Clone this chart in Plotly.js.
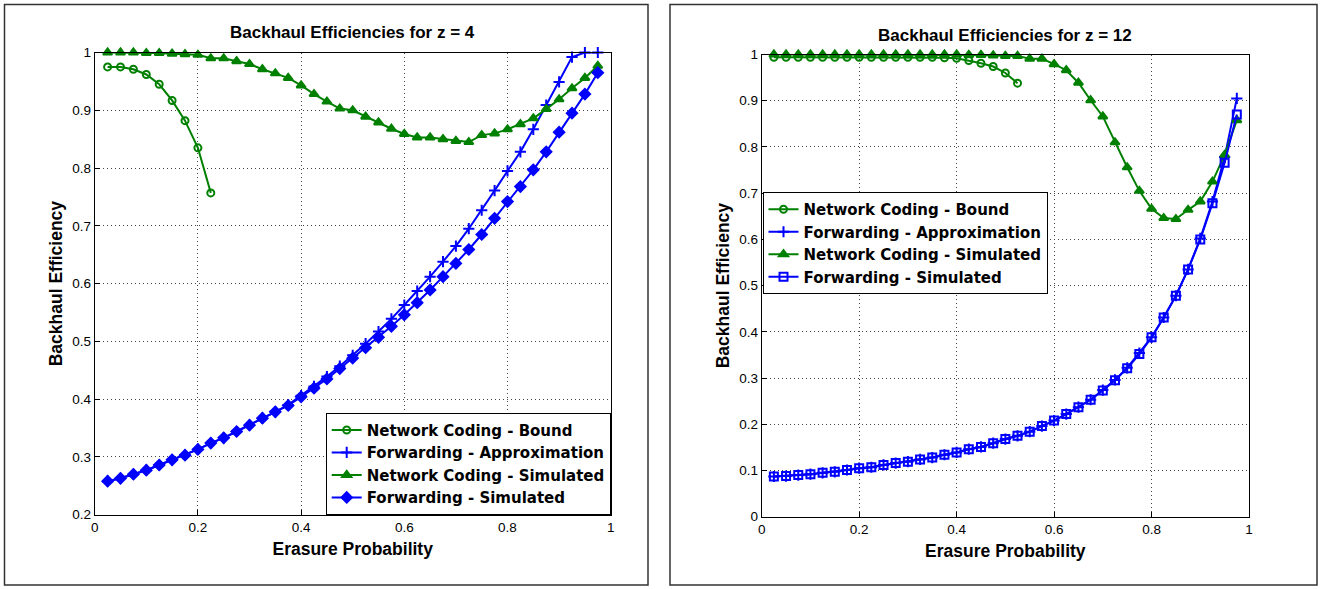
<!DOCTYPE html>
<html>
<head>
<meta charset="utf-8">
<script src="https://cdn.plot.ly/plotly-3.0.1.min.js"></script>
<style>html,body{margin:0;padding:0;background:#fff;}#chart{width:1322px;height:589px;}</style>
</head>
<body>
<div id="chart"></div>
<script>
// Erasure probability grid (0.025 .. 0.975)
const erasureProb = [0.025,0.05,0.075,0.1,0.125,0.15,0.175,0.2,0.225,0.25,0.275,0.3,0.325,0.35,0.375,0.4,0.425,0.45,0.475,0.5,0.525,0.55,0.575,0.6,0.625,0.65,0.675,0.7,0.725,0.75,0.775,0.8,0.825,0.85,0.875,0.9,0.925,0.95,0.975];

// ---- z = 4 ----
const z4_ncBound = [0.975,0.975,0.971,0.962,0.945,0.917,0.882,0.835,0.757];
const z4_fwdApprox = [0.258,0.263,0.270,0.277,0.286,0.295,0.303,0.313,0.324,0.333,0.344,0.355,0.367,0.378,0.390,0.406,0.422,0.439,0.457,0.476,0.496,0.517,0.539,0.563,0.587,0.612,0.638,0.665,0.695,0.727,0.761,0.795,0.828,0.867,0.909,0.949,0.992,1.0,1.0];
const z4_ncSim = [1.0,1.0,1.0,0.999,0.999,0.998,0.997,0.996,0.990,0.990,0.985,0.980,0.971,0.964,0.956,0.943,0.928,0.915,0.903,0.900,0.889,0.879,0.868,0.859,0.853,0.853,0.850,0.847,0.845,0.857,0.860,0.867,0.876,0.886,0.902,0.919,0.938,0.956,0.977];
const z4_fwdSim = [0.258,0.263,0.270,0.277,0.286,0.295,0.303,0.313,0.324,0.333,0.344,0.355,0.367,0.378,0.389,0.404,0.419,0.435,0.453,0.471,0.489,0.507,0.526,0.546,0.567,0.589,0.612,0.635,0.659,0.685,0.713,0.742,0.768,0.797,0.828,0.862,0.895,0.928,0.965];

// ---- z = 12 ----
const z12_ncBound = [0.994,0.994,0.994,0.994,0.994,0.994,0.994,0.994,0.994,0.994,0.994,0.994,0.994,0.994,0.993,0.992,0.987,0.981,0.974,0.960,0.938];
const z12_fwdApprox = [0.087,0.088,0.090,0.092,0.095,0.097,0.101,0.105,0.107,0.112,0.116,0.119,0.124,0.128,0.134,0.139,0.146,0.151,0.159,0.168,0.175,0.184,0.196,0.208,0.222,0.237,0.253,0.274,0.296,0.322,0.354,0.388,0.431,0.478,0.535,0.602,0.682,0.778,0.905];
const z12_ncSim = [1.0,1.0,1.0,1.0,1.0,1.0,1.0,1.0,1.0,1.0,1.0,1.0,1.0,1.0,1.0,1.0,0.999,0.999,0.998,0.997,0.997,0.991,0.991,0.979,0.966,0.939,0.901,0.866,0.810,0.756,0.705,0.666,0.646,0.644,0.664,0.682,0.725,0.783,0.858];
const z12_fwdSim = [0.087,0.088,0.090,0.092,0.095,0.097,0.101,0.105,0.107,0.112,0.116,0.119,0.124,0.128,0.134,0.139,0.146,0.151,0.159,0.168,0.175,0.184,0.196,0.208,0.222,0.237,0.253,0.273,0.295,0.321,0.352,0.388,0.431,0.478,0.535,0.600,0.678,0.766,0.870];

const seriesNames = ['Network Coding - Bound','Forwarding - Approximation','Network Coding - Simulated','Forwarding - Simulated'];
const plotTitles = ['Backhaul Efficiencies for z = 4','Backhaul Efficiencies for z = 12'];
const xTitle = 'Erasure Probability';
const yTitle = 'Backhaul Efficiency';

const GREEN = 'rgb(0,128,0)';
const BLUE = 'rgb(0,0,255)';
const FONT = '"Liberation Sans", Arial, Helvetica, sans-serif';
const LEGFONT = '"DejaVu Sans", "Liberation Sans", Arial, sans-serif';

function tr(x, y, name, color, symbol, size, xa, ya, leg) {
  return {
    x: x, y: y, name: name, type: 'scatter', mode: 'lines+markers',
    xaxis: xa, yaxis: ya, legend: leg, cliponaxis: false,
    line: {color: color, width: 2},
    marker: {symbol: symbol, size: size, color: color, line: {color: color, width: 2}}
  };
}

const data = [
  tr(erasureProb.slice(0, z4_ncBound.length), z4_ncBound, seriesNames[0], GREEN, 'circle-open', 7, 'x', 'y', 'legend'),
  tr(erasureProb, z4_fwdApprox, seriesNames[1], BLUE, 'cross-thin-open', 8, 'x', 'y', 'legend'),
  tr(erasureProb, z4_ncSim, seriesNames[2], GREEN, 'triangle-up', 8, 'x', 'y', 'legend'),
  tr(erasureProb, z4_fwdSim, seriesNames[3], BLUE, 'diamond', 8, 'x', 'y', 'legend'),
  tr(erasureProb.slice(0, z12_ncBound.length), z12_ncBound, seriesNames[0], GREEN, 'circle-open', 7, 'x2', 'y2', 'legend2'),
  tr(erasureProb, z12_fwdApprox, seriesNames[1], BLUE, 'cross-thin-open', 8, 'x2', 'y2', 'legend2'),
  tr(erasureProb, z12_ncSim, seriesNames[2], GREEN, 'triangle-up', 8, 'x2', 'y2', 'legend2'),
  tr(erasureProb, z12_fwdSim, seriesNames[3], BLUE, 'square-open', 8, 'x2', 'y2', 'legend2')
];

const W = 1322, H = 589;
const px = v => v / W;
const py = v => 1 - v / H;

const GRID = {gridcolor: '#444', griddash: '1px,3px', gridwidth: 1};

function xax(dom, anchor) {
  return Object.assign({
    domain: dom, anchor: anchor, range: [0, 1], dtick: 0.2, tick0: 0,
    showline: true, mirror: true, linecolor: '#000', linewidth: 1,
    ticks: 'inside', ticklen: 5, tickcolor: '#000',
    showgrid: true, zeroline: false,
    tickfont: {family: FONT, size: 13.5, color: '#000'},
    title: {text: '<b>' + xTitle + '</b>', font: {family: FONT, size: 17.5, color: '#000'}, standoff: 8}
  }, GRID);
}
function yax(dom, anchor, range) {
  return Object.assign({
    domain: dom, anchor: anchor, range: range, dtick: 0.1, tick0: 0,
    showline: true, mirror: true, linecolor: '#000', linewidth: 1,
    ticks: 'inside', ticklen: 5, tickcolor: '#000',
    showgrid: true, zeroline: false,
    tickfont: {family: FONT, size: 13.5, color: '#000'},
    title: {text: '<b>' + yTitle + '</b>', font: {family: FONT, size: 17.5, color: '#000'}, standoff: 5}
  }, GRID);
}

const legendFont = {family: LEGFONT, size: 15, color: '#000', weight: 'bold'};

const layout = {
  width: W, height: H,
  margin: {l: 0, r: 0, t: 0, b: 0},
  paper_bgcolor: '#fff', plot_bgcolor: '#fff',
  font: {family: FONT, color: '#000'},
  xaxis: xax([px(94.7), px(610.7)], 'y'),
  yaxis: yax([1 - 514.7 / H, 1 - 52.5 / H], 'x', [0.2, 1]),
  xaxis2: xax([px(761.7), px(1249)], 'y2'),
  yaxis2: yax([1 - 516.7 / H, 1 - 54.5 / H], 'x2', [0, 1]),
  legend: {
    x: px(610.7), y: py(514.7), xanchor: 'right', yanchor: 'bottom',
    bgcolor: '#fff', bordercolor: '#000', borderwidth: 1,
    font: legendFont, itemwidth: 30, tracegroupgap: 0
  },
  legend2: {
    x: px(762.5), y: py(192), xanchor: 'left', yanchor: 'top',
    bgcolor: '#fff', bordercolor: '#000', borderwidth: 1,
    font: legendFont, itemwidth: 30, tracegroupgap: 0
  },
  annotations: [
    {text: '<b>' + plotTitles[0] + '</b>', xref: 'paper', yref: 'paper', x: px(352.7), y: py(33), xanchor: 'center', yanchor: 'middle', showarrow: false, font: {family: FONT, size: 17, color: '#000'}},
    {text: '<b>' + plotTitles[1] + '</b>', xref: 'paper', yref: 'paper', x: px(1005.3), y: py(35), xanchor: 'center', yanchor: 'middle', showarrow: false, font: {family: FONT, size: 17, color: '#000'}}
  ],
  shapes: [
    {type: 'rect', xref: 'paper', yref: 'paper', x0: px(4.5), x1: px(648), y0: py(585), y1: py(4.5), line: {color: '#333', width: 1.5}, fillcolor: 'rgba(0,0,0,0)', layer: 'below'},
    {type: 'rect', xref: 'paper', yref: 'paper', x0: px(670), x1: px(1317), y0: py(585), y1: py(4.5), line: {color: '#333', width: 1.5}, fillcolor: 'rgba(0,0,0,0)', layer: 'below'}
  ],
  showlegend: true
};

Plotly.newPlot('chart', data, layout, {staticPlot: true, displayModeBar: false});
</script>
</body>
</html>
